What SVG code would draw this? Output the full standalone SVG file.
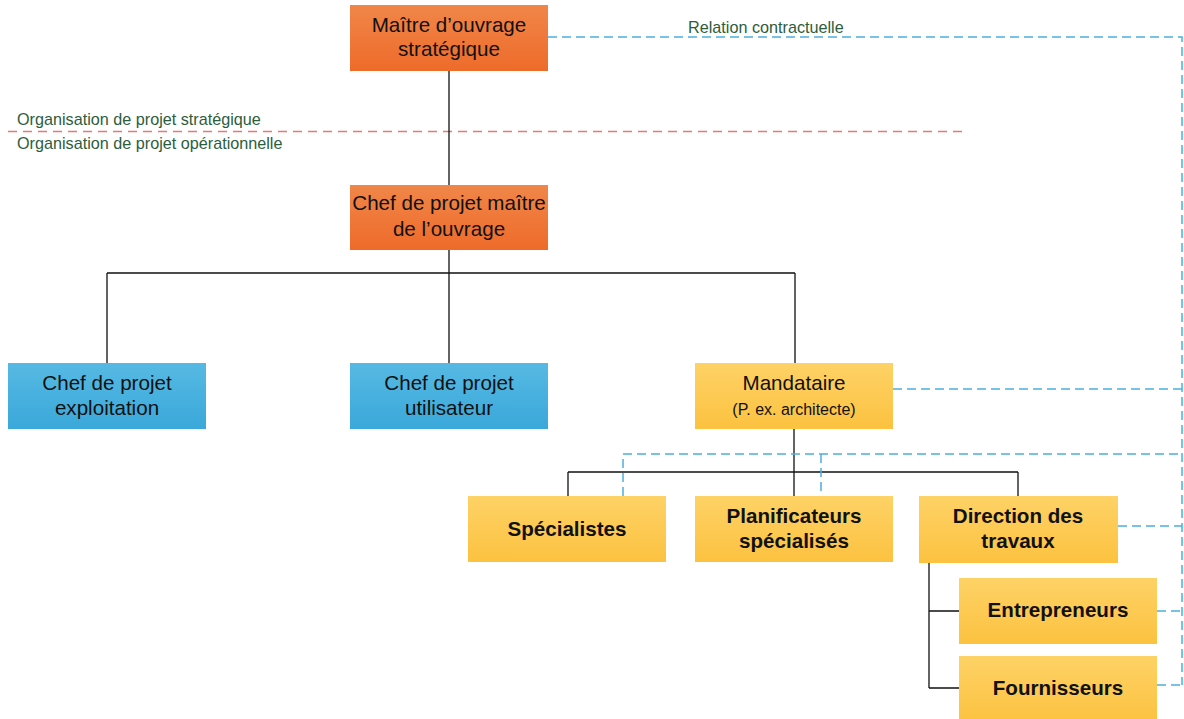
<svg xmlns="http://www.w3.org/2000/svg" width="1184" height="719" viewBox="0 0 1184 719">
<defs>
<linearGradient id="gO" x1="0" y1="0" x2="0" y2="1"><stop offset="0" stop-color="#f08649"/><stop offset="1" stop-color="#ee6b2a"/></linearGradient>
<linearGradient id="gB" x1="0" y1="0" x2="0" y2="1"><stop offset="0" stop-color="#56b9e3"/><stop offset="1" stop-color="#3aa8da"/></linearGradient>
<linearGradient id="gY" x1="0" y1="0" x2="0" y2="1"><stop offset="0" stop-color="#fed266"/><stop offset="1" stop-color="#fcc240"/></linearGradient>
<style>
text{font-family:"Liberation Sans",Arial,sans-serif;text-anchor:middle;fill:#111}
.n{font-size:20.6px}
.b{font-size:20.6px;font-weight:bold}
.s{font-size:16px}
.lbl{font-size:16.2px;fill:#2d5d3d;text-anchor:start}
.o{fill:url(#gO)}
.bl{fill:url(#gB)}
.y{fill:url(#gY)}
.c{stroke:#111;stroke-width:1.3;fill:none}
.d{stroke:#4dafe0;stroke-width:1.5;fill:none;stroke-dasharray:9 5}
.r{stroke:#e8777a;stroke-width:1.5;fill:none;stroke-dasharray:9 6}
</style>
</defs>
<g id="labels">
<path class="r" d="M8 131.5H963"/>
<text class="lbl" x="17" y="125">Organisation de projet stratégique</text>
<text class="lbl" x="17" y="149">Organisation de projet opérationnelle</text>
<text class="lbl" x="688" y="33">Relation contractuelle</text>
</g>
<g id="connectors">
<path class="c" d="M449 71V185M449 250V273M107 273H795M107 273V363M449 273V363M795 273V363"/>
<path class="c" d="M794 429V496M568 472H1018M568 472V496M1018 472V496"/>
<path class="c" d="M929 563V688M929 611H959M929 688H959"/>
<path class="d" d="M548 37H1182V685"/>
<path class="d" d="M893 389H1182M623 496V454H1182M821 454V496M1118 526H1182M1157 611H1182M1157 685H1182"/>
</g>
<g id="maitre-ouvrage-strategique"><rect class="o" x="350" y="5" width="198" height="66"/><text class="n" x="449" y="32">Maître d’ouvrage</text><text class="n" x="449" y="56">stratégique</text></g>
<g id="chef-projet-mo"><rect class="o" x="350" y="185" width="198" height="65"/><text class="n" x="449" y="210">Chef de projet maître</text><text class="n" x="449" y="236">de l’ouvrage</text></g>
<g id="chef-exploitation"><rect class="bl" x="8" y="363" width="198" height="66"/><text class="n" x="107" y="390">Chef de projet</text><text class="n" x="107" y="415">exploitation</text></g>
<g id="chef-utilisateur"><rect class="bl" x="350" y="363" width="198" height="66"/><text class="n" x="449" y="390">Chef de projet</text><text class="n" x="449" y="415">utilisateur</text></g>
<g id="mandataire"><rect class="y" x="695" y="363" width="198" height="66"/><text class="n" x="794" y="390">Mandataire</text><text class="s" x="794" y="415">(P. ex. architecte)</text></g>
<g id="specialistes"><rect class="y" x="468" y="496" width="198" height="66"/><text class="b" x="567" y="536">Spécialistes</text></g>
<g id="planificateurs"><rect class="y" x="695" y="496" width="198" height="66"/><text class="b" x="794" y="523">Planificateurs</text><text class="b" x="794" y="548">spécialisés</text></g>
<g id="direction-travaux"><rect class="y" x="919" y="496" width="199" height="67"/><text class="b" x="1018" y="523">Direction des</text><text class="b" x="1018" y="548">travaux</text></g>
<g id="entrepreneurs"><rect class="y" x="959" y="578" width="198" height="66"/><text class="b" x="1058" y="617">Entrepreneurs</text></g>
<g id="fournisseurs"><rect class="y" x="959" y="656" width="198" height="66"/><text class="b" x="1058" y="695">Fournisseurs</text></g>
</svg>
